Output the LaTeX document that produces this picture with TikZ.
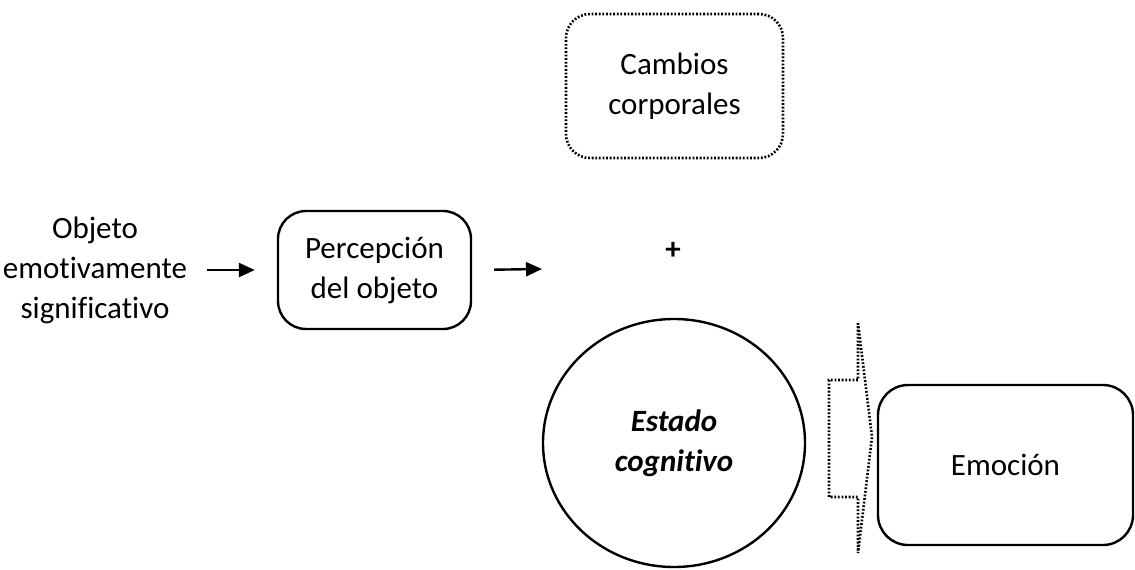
\documentclass[tikz,border=0pt]{standalone}
\usepackage{fontspec}
\setmainfont{Carlito}[Ligatures={NoCommon}]
\usetikzlibrary{arrows.meta, shapes.geometric}

\begin{document}
\begin{tikzpicture}[x=0.5pt, y=-0.5pt, line width=1.2pt,
    font=\fontsize{15.5}{20}\selectfont,
    main node/.style={draw, rounded corners=14pt, align=center, inner sep=0pt},
    text node/.style={align=center, inner sep=0pt},
    puntos/.style={line width=1.3pt, dash pattern=on 0.9pt off 0.9pt},
    flecha/.style={-{Triangle[length=8pt, width=7pt]}}]
\useasboundingbox (0,0) rectangle (1135,569);

\node[text node](objeto) at (95,270) {Objeto\\emotivamente\\significativo};
\node[main node, minimum width=96.5pt, minimum height=59pt](percepcion) at (374.5,270) {Percepci\'on\\del objeto};
\node[main node, puntos, rounded corners=12pt, minimum width=108.5pt, minimum height=72pt](cambios) at (674.5,86) {Cambios\\corporales};
\node[text node, font=\fontsize{15.5}{20}\selectfont\bfseries](mas) at (673,251) {+};
\node[draw, ellipse, inner sep=0pt, minimum width=131pt, minimum height=124pt, align=center,
    font=\fontsize{15.5}{20}\selectfont\bfseries\itshape](estado) at (674,443) {Estado\\cognitivo};
\node[main node, rounded corners=15pt, minimum width=127.5pt, minimum height=80pt](emocion) at (1005.5,465) {Emoci\'on};
\coordinate (fin) at (542,269);

% flechas
\draw[flecha, shorten <=9.5pt, shorten >=11pt] (objeto.east |- percepcion.west) -- (percepcion.west);
\draw[flecha, shorten <=11pt] (percepcion.east) -- (fin);

% flecha punteada
\draw[puntos] (858,323) -- (872,437) -- (858,553) -- (858,497) -- (829,497)
    -- (829,380) -- (858,380) -- cycle;
\end{tikzpicture}
\end{document}
